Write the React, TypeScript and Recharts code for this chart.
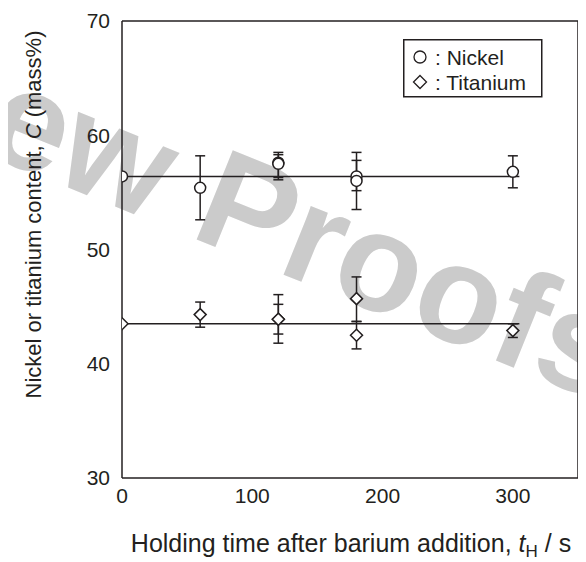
import React from 'react';
import { ScatterChart, Scatter, XAxis, YAxis, ErrorBar, Legend, Label } from 'recharts';

const INK = '#231f20';
const FONT = '"Liberation Sans", Arial, Helvetica, sans-serif';

// Holding times after barium addition (s) for the sampled melts
const heldTimes = [60, 120, 120, 180, 180, 300];

// Nickel content (mass%) with lower / upper deviation
const nickelContent = [55.4, 57.6, 57.5, 56.4, 56.0, 56.8];
const nickelErrLow = [2.8, 1.5, 1.2, 1.25, 2.5, 1.4];
const nickelErrHigh = [2.8, 0.9, 0.8, 1.4, 2.5, 1.4];

// Titanium content (mass%) with lower / upper deviation
const titaniumContent = [44.3, 43.9, 43.9, 45.7, 42.5, 42.9];
const titaniumErrLow = [1.1, 2.1, 1.3, 2.0, 1.2, 0.6];
const titaniumErrHigh = [1.1, 2.15, 1.3, 1.9, 1.2, 0.6];

// Initial composition (t = 0), carried across as a reference level
const initialTime = 0;
const levelEndTime = 305;
const initialNickel = 56.4;
const initialTitanium = 43.5;

const xTicks = [0, 100, 200, 300];
const yTicks = [30, 40, 50, 60, 70];
const xDomain: [number, number] = [0, 350];
const yDomain: [number, number] = [30, 70];

const legendItems = [
  { name: 'Nickel', symbol: 'circle' },
  { name: 'Titanium', symbol: 'diamond' },
];

const nickelPoints = heldTimes.map((t, i) => ({
  t,
  c: nickelContent[i],
  err: [nickelErrLow[i], nickelErrHigh[i]],
}));
const titaniumPoints = heldTimes.map((t, i) => ({
  t,
  c: titaniumContent[i],
  err: [titaniumErrLow[i], titaniumErrHigh[i]],
}));
const nickelStart = [{ t: initialTime, c: initialNickel }];
const titaniumStart = [{ t: initialTime, c: initialTitanium }];
const nickelLevel = [
  { t: initialTime, c: initialNickel },
  { t: levelEndTime, c: initialNickel },
];
const titaniumLevel = [
  { t: initialTime, c: initialTitanium },
  { t: levelEndTime, c: initialTitanium },
];

const CircleMark = (props: any) => (
  <circle cx={props.cx} cy={props.cy} r={5.5} fill="#fff" stroke={INK} strokeWidth={1.5} />
);

const diamondPath = (cx: number, cy: number, s: number) =>
  `M${cx},${cy - s}L${cx + s},${cy}L${cx},${cy + s}L${cx - s},${cy}Z`;

const DiamondMark = (props: any) => (
  <path d={diamondPath(props.cx, props.cy, 6)} fill="#fff" stroke={INK} strokeWidth={1.5} />
);

const NoMark = () => <g />;

const YTitle = (props: any) => {
  const { viewBox } = props;
  const cx = viewBox.x - 29;
  const cy = viewBox.y + viewBox.height / 2 - 35;
  return (
    <text
      x={cx}
      y={cy}
      transform={`rotate(-90 ${cx} ${cy})`}
      textAnchor="middle"
      dominantBaseline="central"
      fontFamily={FONT}
      fontSize={22}
      fill={INK}
    >
      Nickel or titanium content, <tspan fontStyle="italic">C</tspan> (mass%)
    </text>
  );
};

const XTitle = (props: any) => {
  const { viewBox } = props;
  const cx = viewBox.x + viewBox.width / 2 + 1;
  const by = viewBox.y + 74;
  return (
    <text x={cx} y={by} textAnchor="middle" fontFamily={FONT} fontSize={25} fill={INK}>
      Holding time after barium addition, <tspan fontStyle="italic">t</tspan>
      <tspan fontSize={17} dy={5}>H</tspan>
      <tspan dy={-5}> / s</tspan>
    </text>
  );
};

const LegendBox = () => (
  <svg width={140} height={59} style={{ display: 'block' }}>
    <rect x={0.75} y={0.75} width={138} height={57} fill="#fff" stroke={INK} strokeWidth={1.5} />
    {legendItems.map((item, i) => {
      const cy = 18 + i * 25;
      return (
        <g key={item.name}>
          {item.symbol === 'circle' ? (
            <circle cx={17} cy={cy} r={6} fill="#fff" stroke={INK} strokeWidth={1.3} />
          ) : (
            <path d={diamondPath(17, cy, 6.5)} fill="#fff" stroke={INK} strokeWidth={1.3} />
          )}
          <text x={32} y={cy + 7.5} fontFamily={FONT} fontSize={21} fill={INK}>
            : {item.name}
          </text>
        </g>
      );
    })}
  </svg>
);

const Watermark = () => (
  <svg
    width={586}
    height={562}
    style={{ position: 'absolute', left: -8, top: -8, pointerEvents: 'none' }}
  >
    <g transform="rotate(22 188 236)" fontFamily={FONT} fontWeight="bold" fontSize={140} fill="#cbcbcb">
      <text x={149} y={236} textAnchor="end">Review</text>
      <text x={188} y={236}>Proofs</text>
    </g>
  </svg>
);

const tickStyle = { fontSize: 21, fill: INK, fontFamily: FONT };
const frameLine = { stroke: INK, strokeWidth: 1.5 };

export default function App() {
  return (
    <div style={{ position: 'relative', width: 578, height: 554 }}>
      <Watermark />
      <ScatterChart
        width={578}
        height={554}
        margin={{ top: 13, right: 8, bottom: 0, left: 54 }}
        style={{ position: 'relative' }}
      >
        <XAxis
          xAxisId="t"
          type="number"
          dataKey="t"
          domain={xDomain}
          ticks={xTicks}
          allowDataOverflow
          tickSize={0}
          tickMargin={10}
          tickLine={false}
          axisLine={frameLine}
          tick={tickStyle}
          height={84}
        >
          <Label content={XTitle} />
        </XAxis>
        <XAxis
          xAxisId="tIn"
          type="number"
          orientation="bottom"
          mirror
          domain={xDomain}
          ticks={xTicks}
          allowDataOverflow
          tickSize={9}
          tickLine={frameLine}
          axisLine={false}
          tick={false}
        />
        <XAxis
          xAxisId="tTop"
          type="number"
          orientation="top"
          mirror
          domain={xDomain}
          ticks={xTicks}
          allowDataOverflow
          tickSize={9}
          tickLine={frameLine}
          axisLine={frameLine}
          tick={false}
        />
        <YAxis
          yAxisId="c"
          type="number"
          dataKey="c"
          domain={yDomain}
          ticks={yTicks}
          allowDataOverflow
          tickSize={0}
          tickMargin={12}
          tickLine={false}
          axisLine={frameLine}
          tick={tickStyle}
          width={60}
        >
          <Label content={YTitle} />
        </YAxis>
        <YAxis
          yAxisId="cIn"
          type="number"
          orientation="left"
          mirror
          domain={yDomain}
          ticks={yTicks}
          allowDataOverflow
          tickSize={9}
          tickLine={frameLine}
          axisLine={false}
          tick={false}
        />
        <YAxis
          yAxisId="cR"
          type="number"
          orientation="right"
          mirror
          domain={yDomain}
          ticks={yTicks}
          allowDataOverflow
          tickSize={9}
          tickLine={frameLine}
          axisLine={frameLine}
          tick={false}
        />

        <Scatter
          name="Nickel level"
          data={nickelLevel}
          xAxisId="t"
          yAxisId="c"
          line={{ stroke: INK, strokeWidth: 1.5 }}
          shape={NoMark}
          legendType="none"
          isAnimationActive={false}
        />
        <Scatter
          name="Titanium level"
          data={titaniumLevel}
          xAxisId="t"
          yAxisId="c"
          line={{ stroke: INK, strokeWidth: 1.5 }}
          shape={NoMark}
          legendType="none"
          isAnimationActive={false}
        />
        <Scatter
          name="Nickel"
          data={nickelPoints}
          xAxisId="t"
          yAxisId="c"
          shape={CircleMark}
          isAnimationActive={false}
        >
          <ErrorBar dataKey="err" direction="y" width={5} stroke={INK} strokeWidth={1.5} />
        </Scatter>
        <Scatter
          name="Titanium"
          data={titaniumPoints}
          xAxisId="t"
          yAxisId="c"
          shape={DiamondMark}
          isAnimationActive={false}
        >
          <ErrorBar dataKey="err" direction="y" width={5} stroke={INK} strokeWidth={1.5} />
        </Scatter>
        <Scatter
          name="Nickel initial"
          data={nickelStart}
          xAxisId="t"
          yAxisId="c"
          shape={CircleMark}
          legendType="none"
          isAnimationActive={false}
        />
        <Scatter
          name="Titanium initial"
          data={titaniumStart}
          xAxisId="t"
          yAxisId="c"
          shape={DiamondMark}
          legendType="none"
          isAnimationActive={false}
        />

        <Legend
          layout="vertical"
          align="center"
          verticalAlign="middle"
          content={LegendBox}
          wrapperStyle={{ top: 31, left: 395, width: 140, height: 59 }}
        />
      </ScatterChart>
    </div>
  );
}
